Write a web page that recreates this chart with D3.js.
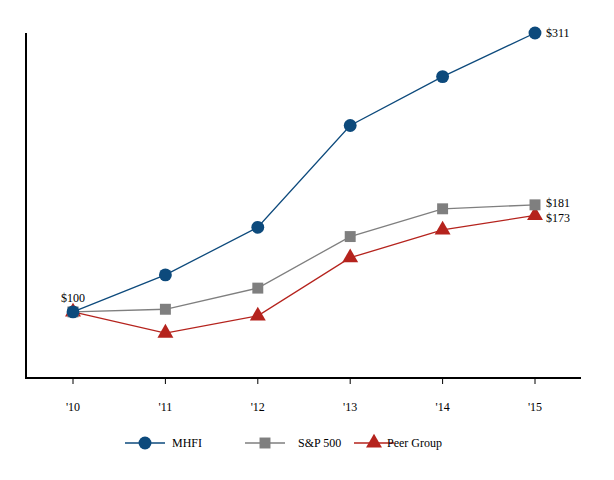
<!DOCTYPE html>
<html><head><meta charset="utf-8">
<script src="https://cdn.jsdelivr.net/npm/d3@7"></script>
<style>body{margin:0;background:#fff}text{font-family:"Liberation Serif",serif}</style>
</head><body><svg id="c" width="614" height="480"></svg>
<script>
var years = ["'10","'11","'12","'13","'14","'15"];
var mhfi = [100, 128, 164, 241, 278, 311];
var sp500 = [100, 102, 118, 157, 178, 181];
var peer = [100, 84, 97, 141, 162, 173];

var svg = d3.select("#c");
var x = d3.scalePoint().domain(years).range([73, 535]);
var y = d3.scaleLinear().domain([50, 311]).range([378, 33]);

svg.append("line").attr("x1",26).attr("x2",26).attr("y1",33).attr("y2",378).attr("stroke","#000").attr("stroke-width",2);
svg.append("line").attr("x1",25).attr("x2",581).attr("y1",378).attr("y2",378).attr("stroke","#000").attr("stroke-width",2);
years.forEach(function(t){
  svg.append("line").attr("x1",x(t)).attr("x2",x(t)).attr("y1",378).attr("y2",384).attr("stroke","#000");
  svg.append("text").attr("x",x(t)).attr("y",411).attr("text-anchor","middle").attr("font-size",12).text(t);
});

var series = [
  {name:"MHFI", vals:mhfi, color:"#0d4a7c", shape:d3.symbolCircle, size:130},
  {name:"S&P 500", vals:sp500, color:"#7f7f7f", shape:d3.symbolSquare, size:120},
  {name:"Peer Group", vals:peer, color:"#b5231d", shape:d3.symbolTriangle, size:110}
];
var line = d3.line().x(function(d,i){return x(years[i]);}).y(function(d){return y(d);});
series.slice().reverse().forEach(function(s){
  svg.append("path").attr("d",line(s.vals)).attr("fill","none").attr("stroke",s.color).attr("stroke-width",1.3);
  s.vals.forEach(function(v,i){
    svg.append("path").attr("d",d3.symbol().type(s.shape).size(s.size)())
      .attr("transform","translate("+x(years[i])+","+y(v)+")").attr("fill",s.color);
  });
});
svg.append("text").attr("x",73).attr("y",y(100)-10).attr("text-anchor","middle").attr("font-size",12).text("$100");
svg.append("text").attr("x",546).attr("y",y(311)+4).attr("font-size",12).text("$311");
svg.append("text").attr("x",546).attr("y",y(181)+2).attr("font-size",12).text("$181");
svg.append("text").attr("x",546).attr("y",y(173)+7).attr("font-size",12).text("$173");

var symX = [145, 265, 374];
var textX = [172, 298, 387];
series.forEach(function(s,i){
  svg.append("line").attr("x1",symX[i]-20).attr("x2",symX[i]+20).attr("y1",443).attr("y2",443).attr("stroke",s.color).attr("stroke-width",1.3);
  svg.append("path").attr("d",d3.symbol().type(s.shape).size(s.size)()).attr("transform","translate("+symX[i]+",443)").attr("fill",s.color);
  svg.append("text").attr("x",textX[i]).attr("y",447).attr("font-size",12).text(s.name);
});
</script></body></html>
